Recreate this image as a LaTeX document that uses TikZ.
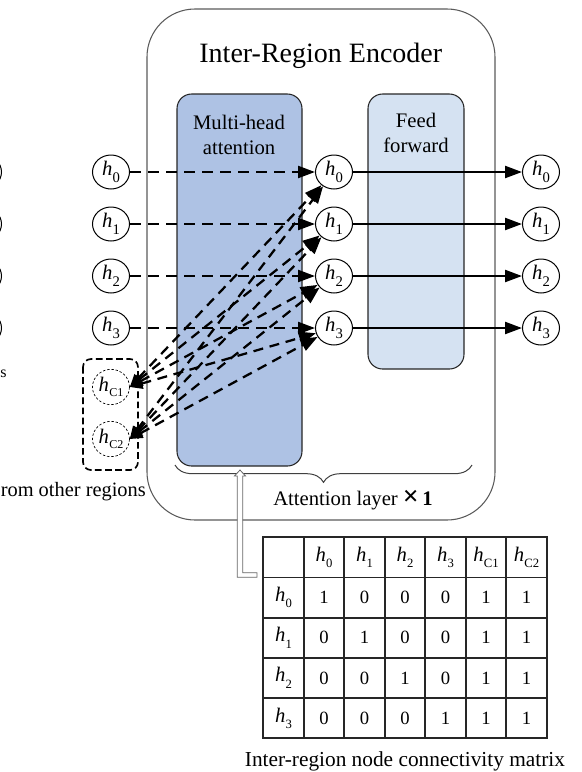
\documentclass[tikz,border=0pt]{standalone}
\usepackage{fontspec}
\setmainfont{Liberation Serif}
\usetikzlibrary{arrows.meta,shapes.geometric,decorations.pathreplacing,calc}

\definecolor{mhcol}{RGB}{174,194,228}
\definecolor{ffcol}{RGB}{213,226,242}
\definecolor{boxline}{RGB}{90,90,90}

\newcommand\hlab[1]{\textit{h}\kern0.2pt\raisebox{-4.8pt}{\fontsize{11}{11}\selectfont #1}}
\newcommand\hclab[1]{\textit{h}\kern0.2pt\raisebox{-3.8pt}{\fontsize{9}{9}\selectfont #1}}
\newcommand\htab[1]{\textit{h}\kern0.2pt\raisebox{-4.8pt}{\fontsize{9.5}{9.5}\selectfont #1}}

\begin{document}
\begin{tikzpicture}[x=0.75pt,y=-0.75pt,
  hnode/.style={ellipse, draw=black, line width=0.75pt, fill=white,
    minimum width=27.75pt, minimum height=25.5pt, inner sep=0pt,
    font=\fontsize{15.5}{16}\selectfont},
  hcnode/.style={ellipse, draw=black, line width=0.5pt, fill=white,
    dash pattern=on 1.8pt off 1.4pt,
    minimum width=27.75pt, minimum height=26.5pt, inner sep=0pt,
    font=\fontsize{15.5}{16}\selectfont},
  darr/.style={line width=1.7pt, dash pattern=on 8.25pt off 5.25pt,
    -{Triangle[length=12.75pt,width=9pt]}},
  sarr/.style={line width=1.7pt, -{Triangle[length=12.75pt,width=9pt]}},
  bdarr/.style={line width=1.7pt, dash pattern=on 7.5pt off 5pt,
    {Triangle[length=9.5pt,width=8pt]}-{Triangle[length=12.75pt,width=9.5pt]}},
  lbl/.style={font=\fontsize{15.5}{15.5}\selectfont, inner sep=0pt},
  tabline/.style={line width=1.4pt, draw=black!85},
  tabtxt/.style={font=\fontsize{14}{14}\selectfont, inner sep=0pt},
  tabh/.style={font=\fontsize{15.5}{16}\selectfont, inner sep=0pt},
]
\useasboundingbox (0,0) rectangle (582,772);
\clip (0,0) rectangle (582,772);

% outer encoder box
\draw[boxline, line width=0.8pt, rounded corners=36pt] (147,9) rectangle (495,520);
\node[font=\fontsize{21}{21}\selectfont, anchor=base, inner sep=0pt] (title) at (320.8,62) {Inter-Region Encoder};

% inner boxes
\draw[black!85, line width=0.8pt, fill=mhcol, rounded corners=11pt] (177,94) rectangle (302,466);
\draw[black!85, line width=0.8pt, fill=ffcol, rounded corners=11pt] (368,94) rectangle (464,369);
\node[lbl, anchor=base] (mh1) at (239,129.3) {Multi-head};
\node[lbl, anchor=base] (mh2) at (239,154) {attention};
\node[lbl, anchor=base] (ff1) at (416,127.7) {Feed};
\node[lbl, anchor=base] (ff2) at (416,152.7) {forward};

% brace and its label
\draw[black!75, line width=0.75pt, decorate, decoration={brace, mirror, amplitude=13pt}] (175,465) -- (472,465);
\node[lbl, anchor=base west] (attn) at (273,505) {Attention layer {\fontsize{21}{21}\selectfont\textbf{×}}\,\textbf{1}};

% left cut-off remnants
\foreach \i/\y in {0/172,1/224,2/276,3/328}
  \node[hnode] (l\i) at (-17,\y) {};
\node[font=\fontsize{12}{12}\selectfont, anchor=base west, inner sep=0pt] (ls) at (0,377) {s};
\node[font=\fontsize{15.3}{15.3}\selectfont, anchor=base west, inner sep=0pt] (other) at (0.5,496) {rom other regions};

% nodes
\foreach \i/\y in {0/172,1/224,2/276,3/328} {
  \node[hnode] (in\i) at (111,\y) {\hlab{\i}};
  \node[hnode] (m\i) at (334,\y) {\hlab{\i}};
  \node[hnode] (out\i) at (541,\y) {\hlab{\i}};
}
\draw[black, line width=1.25pt, dash pattern=on 5pt off 2.6pt, rounded corners=6pt] (83,359) rectangle (138,470);
\node[hcnode] (hc1) at (111,387) {\hclab{C1}};
\node[hcnode] (hc2) at (111,439) {\hclab{C2}};

% connectors
\foreach \i in {0,...,3} {
  \draw[darr] (in\i) -- (m\i);
  \draw[sarr] (m\i) -- (out\i);
}
\foreach \i in {0,...,3} {
  \draw[bdarr] (hc1.east) -- (m\i);
  \draw[bdarr] (hc2.east) -- (m\i);
}

% connectivity matrix
\coordinate (tabNW) at (263.3,537.3);
\coordinate (tabSE) at (546.7,738.3);
\foreach \k in {1,...,6}
  \draw[tabline] ({263.3+40.486*\k},537.3) -- ({263.3+40.486*\k},738.3);
\foreach \k in {1,...,4}
  \draw[tabline] (263.3,{537.3+40.2*\k}) -- (546.7,{537.3+40.2*\k});
\draw[tabline] (tabNW) rectangle (tabSE);
\foreach \lab [count=\c] in {0,1,2,3,C1,C2}
  \node[tabh] (th\c) at ({263.3+40.486*(\c+0.5)},557.4) {\htab{\lab}};
\foreach \lab [count=\r] in {0,1,2,3}
  \node[tabh] (rh\r) at (283.5,{537.3+40.2*(\r+0.5)}) {\htab{\lab}};
\foreach \row [count=\r] in {{1,0,0,0,1,1},{0,1,0,0,1,1},{0,0,1,0,1,1},{0,0,0,1,1,1}}
  \foreach \v [count=\c] in \row
    \node[tabtxt] (v\r\c) at ({263.3+40.486*(\c+0.5)},{537.3+40.2*(\r+0.5)}) {\v};
\node[font=\fontsize{16}{16}\selectfont, anchor=base, inner sep=0pt] (caption) at (405,766) {Inter-region node connectivity matrix};

% hollow arrow from matrix to attention layer
\coordinate (arrS) at (257,575);
\coordinate (arrE) at (240,470);
\draw[gray!80!black, line width=0.6pt, fill=white]
  (arrS) ++(0,-2.3) -| ($(arrE)+(2.7,6)$) -- ++(2.8,0) -- (arrE)
  -- ($(arrE)+(-5.5,6)$) -- ++(2.8,0) |- ($(arrS)+(0,2.3)$) -- cycle;
\end{tikzpicture}
\end{document}
